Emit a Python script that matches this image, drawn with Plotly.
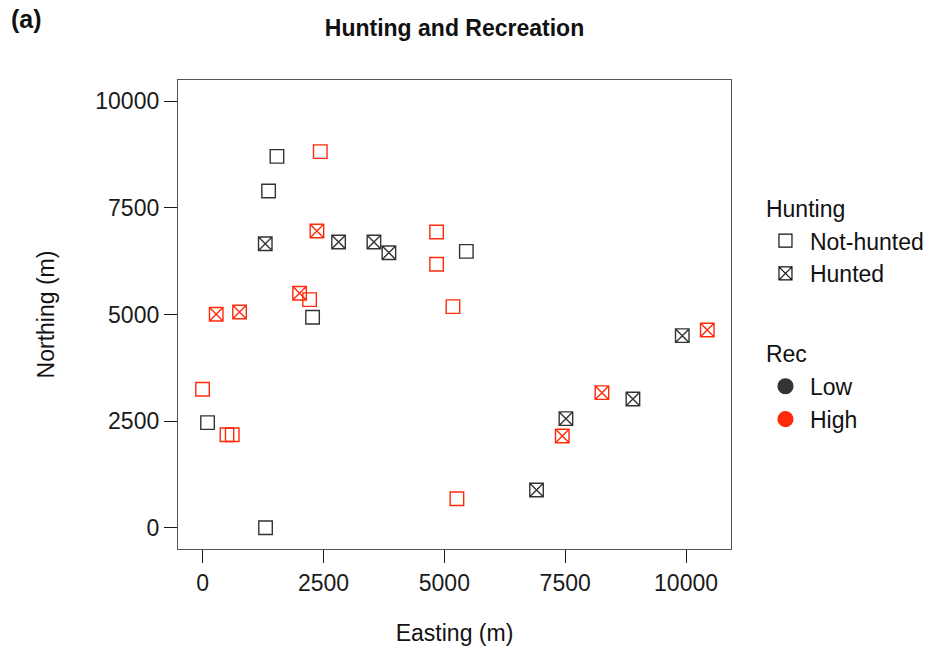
import plotly.graph_objects as go

# Site coordinates (m), split by hunting status and recreation level
nh_low_x = [1537, 1364, 5455, 2274, 101, 1301]
nh_low_y = [8709, 7897, 6480, 4935, 2463, 0]

nh_high_x = [2433, 4839, 4839, 2212, 5178, -2, 503, 612, 5260]
nh_high_y = [8819, 6935, 6177, 5348, 5184, 3246, 2181, 2181, 680]

h_low_x = [1295, 2812, 3543, 3853, 9922, 8901, 7515, 6907]
h_low_y = [6661, 6701, 6701, 6450, 4504, 3019, 2557, 884]

h_high_x = [2364, 2005, 281, 764, 10439, 8260, 7439]
h_high_y = [6959, 5498, 5005, 5059, 4637, 3167, 2151]

tick_vals = [0, 2500, 5000, 7500, 10000]

LOW = "#333333"
HIGH = "#FF2A0A"
FONT = "Liberation Sans, Arial, sans-serif"
FS = 23
MSIZE = 13.5
LW = 1.4

fig = go.Figure()

def add_points(xs, ys, symbol, color):
    fig.add_trace(go.Scatter(
        x=xs, y=ys, mode="markers", showlegend=False, hoverinfo="x+y",
        marker=dict(symbol=symbol, size=MSIZE, color=color,
                    line=dict(color=color, width=LW)),
    ))

add_points(nh_low_x, nh_low_y, "square-open", LOW)
add_points(nh_high_x, nh_high_y, "square-open", HIGH)
add_points(h_low_x, h_low_y, "square-x-open", LOW)
add_points(h_high_x, h_high_y, "square-x-open", HIGH)

# Legend keys
def add_key(name, symbol, color, group, title, size):
    fig.add_trace(go.Scatter(
        x=[None], y=[None], mode="markers", name=name,
        legendgroup=group, legendgrouptitle=dict(text=title, font=dict(size=FS, color="#111111")),
        marker=dict(symbol=symbol, size=size, color=color,
                    line=dict(color=color, width=1.2)),
    ))

add_key("Not-hunted", "square-open", "#111111", "hunting", "Hunting", 13)
add_key("Hunted", "square-x-open", "#111111", "hunting", "Hunting", 13)
add_key("Low", "circle", LOW, "rec", "Rec", 15)
add_key("High", "circle", HIGH, "rec", "Rec", 15)

axis_common = dict(
    showgrid=False, zeroline=False,
    showline=True, mirror=True, linecolor="#555555", linewidth=1.3,
    ticks="outside", ticklen=13, tickwidth=1.3, tickcolor="#1a1a1a",
    tickvals=tick_vals, ticktext=[str(v) for v in tick_vals],
    tickfont=dict(size=FS, color="#1a1a1a", family=FONT),
)

fig.update_layout(
    width=928, height=651,
    margin=dict(l=178, r=197, t=80, b=102, autoexpand=False),
    paper_bgcolor="white", plot_bgcolor="white",
    font=dict(family=FONT, color="#111111"),
    title=dict(text="Hunting and Recreation", x=0.5, xref="paper", xanchor="center",
               y=1 - 28 / 651, yref="container", yanchor="middle",
               font=dict(size=FS, weight="bold", color="#111111", family=FONT)),
    xaxis=dict(range=[-510, 10930], title=dict(text="Easting (m)", font=dict(size=FS), standoff=30),
               **axis_common),
    yaxis=dict(range=[-500, 10500], title=dict(text="Northing (m)", font=dict(size=FS), standoff=34),
               **axis_common),
    legend=dict(
        x=1.0542, xanchor="left", y=0.7736, yanchor="top",
        font=dict(size=FS, color="#111111", family=FONT),
        traceorder="grouped", tracegroupgap=47, itemwidth=39,
        bgcolor="rgba(0,0,0,0)", itemclick=False, itemdoubleclick=False,
    ),
    annotations=[dict(
        text="<b>(a)</b>", xref="paper", yref="paper",
        x=(9 - 178) / 553, y=(549 - 19) / 469, xanchor="left", yanchor="middle",
        showarrow=False, font=dict(size=25, color="#111111", family=FONT),
    )],
)

fig.write_html("out.html")
